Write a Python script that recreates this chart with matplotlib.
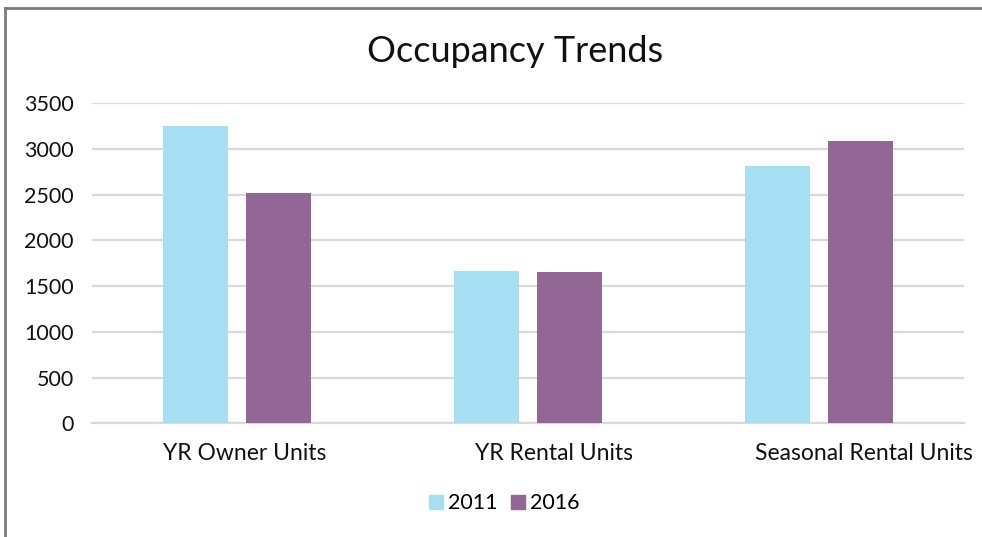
import matplotlib
matplotlib.use("Agg")
import matplotlib.pyplot as plt
import numpy as np
from matplotlib.lines import Line2D
from matplotlib.transforms import ScaledTranslation

plt.rcParams["font.family"] = ["Lato", "DejaVu Sans"]

categories = ["YR Owner Units", "YR Rental Units", "Seasonal Rental Units"]
years = ["2011", "2016"]
vals_2011 = [3250, 1665, 2810]
vals_2016 = [2515, 1655, 3085]

C2011, C2016 = "#a6def3", "#926796"
GRID, INK = "#d9d9d9", "#111111"

fig = plt.figure(figsize=(9.82, 5.37), dpi=100)
ax = fig.add_axes([0.0934, 0.2117, 0.8886, 0.5959])

x = np.arange(len(categories))
w, off = 0.223, 0.142
ax.bar(x - off, vals_2011, w, color=C2011, label=years[0], zorder=3)
ax.bar(x + off, vals_2016, w, color=C2016, label=years[1], zorder=3)

ax.set_xlim(-0.5, 2.5)
ax.set_ylim(0, 3500)
ax.set_yticks(np.arange(0, 3501, 500))
ax.grid(axis="y", color=GRID, lw=1.6, zorder=0)
for s in ("top", "right", "left"):
    ax.spines[s].set_visible(False)
ax.spines["bottom"].set_color(GRID)
ax.spines["bottom"].set_linewidth(1.6)
ax.tick_params(axis="both", length=0, colors=INK)
ax.tick_params(axis="y", pad=13, labelsize=15.5)
ax.tick_params(axis="x", pad=14, labelsize=16.5)
ax.set_xticks(x, categories)

# labels in the source sit a bit right of the bar groups
shifts = [8, 26, 45]
for lab, dx in zip(ax.get_xticklabels(), shifts):
    lab.set_transform(lab.get_transform() + ScaledTranslation(dx / 100, 0, fig.dpi_scale_trans))

fig.text(0.525, 0.905, "Occupancy Trends", ha="center", va="center", fontsize=26, color=INK)

handles = [Line2D([], [], ls="none", marker="s", markersize=10, color=c) for c in (C2011, C2016)]
fig.legend(handles, years, loc="center", bbox_to_anchor=(0.514, 0.063), ncol=2, frameon=False,
           fontsize=15.5, handlelength=0.5, handletextpad=0.3, columnspacing=0.7)

# outer frame (left and top edges only, as in the source)
fig.add_artist(Line2D([0.0056, 0.0056], [0, 0.986], transform=fig.transFigure, color="#7a7a7a", lw=2))
fig.add_artist(Line2D([0.0056, 1.0], [0.986, 0.986], transform=fig.transFigure, color="#7a7a7a", lw=2))

fig.savefig("out.png", dpi=100, facecolor="white")
